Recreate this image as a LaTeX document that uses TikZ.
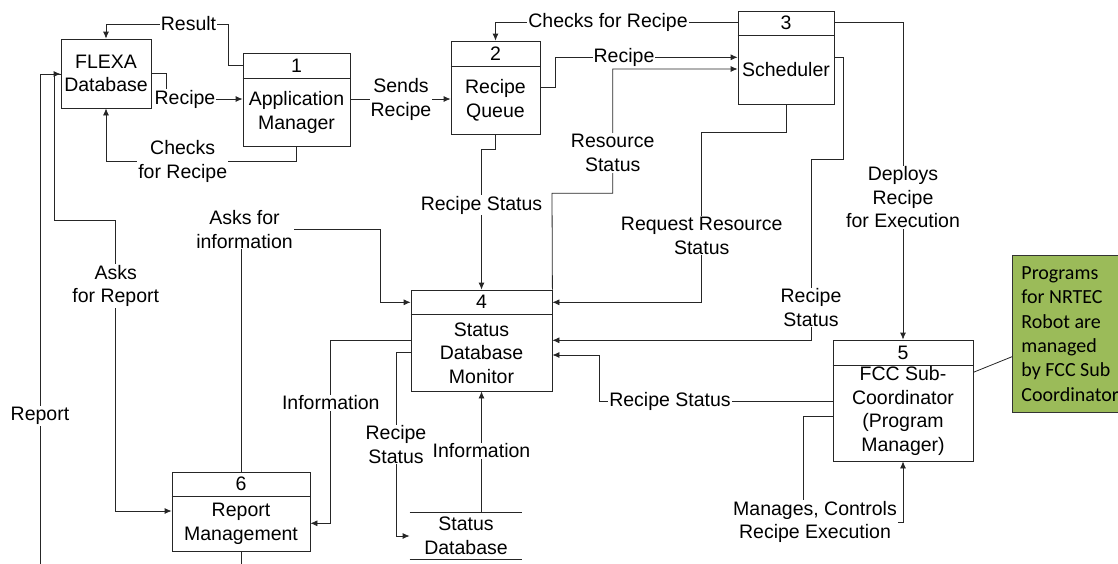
\documentclass[tikz,border=0pt]{standalone}
\usepackage{fontspec}
\setmainfont{Liberation Sans}
\newfontfamily\notefont{Carlito}
\usepackage{tikz}
\usetikzlibrary{arrows.meta}

\definecolor{noteGreen}{RGB}{155,187,89}

\begin{document}
\begin{tikzpicture}[x=1pt, y=-1pt, >={Latex[length=7pt,width=6pt]}, line width=0.8pt, draw=black!85,
  every node/.style={font=\fontsize{19.5}{23.5}\selectfont, align=center},
  box/.style={draw, inner sep=0pt},
  lbl/.style={fill=white, inner sep=1pt}]
\useasboundingbox (0,0) rectangle (1118,563);

% processes
\node[box, minimum width=90, minimum height=69] (flexa) at (106,73.5) {FLEXA\\Database};

\node[box, minimum width=107, minimum height=93] (n1) at (296.5,99.5) {};
\draw ([yshift=-26]n1.north west) -- ([yshift=-26]n1.north east);
\node at ([yshift=-13]n1.north) {1};
\node at (296.5,112.5) {Application\\Manager};

\node[box, minimum width=89, minimum height=93] (n2) at (495.5,87.5) {};
\draw ([yshift=-26]n2.north west) -- ([yshift=-26]n2.north east);
\node at ([yshift=-13]n2.north) {2};
\node at (495.5,100.5) {Recipe\\Queue};

\node[box, minimum width=96, minimum height=93] (n3) at (786,57.5) {};
\draw ([yshift=-25]n3.north west) -- ([yshift=-25]n3.north east);
\node at ([yshift=-12.5]n3.north) {3};
\node at (786,70) {Scheduler};

\node[box, minimum width=141, minimum height=101] (n4) at (481.5,340.5) {};
\draw ([yshift=-25]n4.north west) -- ([yshift=-25]n4.north east);
\node at ([yshift=-12.5]n4.north) {4};
\node at (481.5,353) {Status\\Database\\Monitor};

\node[box, minimum width=140, minimum height=121] (n5) at (903,400.5) {};
\draw ([yshift=-26]n5.north west) -- ([yshift=-26]n5.north east);
\node at ([yshift=-13]n5.north) {5};
\node at (903,411) {FCC Sub-\\Coordinator\\(Program\\Manager)};

\node[box, minimum width=138, minimum height=79] (n6) at (241,511.5) {};
\draw ([yshift=-25]n6.north west) -- ([yshift=-25]n6.north east);
\node at ([yshift=-12.5]n6.north) {6};
\node at (241,524) {Report\\Management};

% data store
\node[minimum width=112, minimum height=46.5, inner sep=0pt] (sdb) at (466,536) {Status\\Database};
\draw (sdb.north west) -- (sdb.north east);
\draw (sdb.south west) -- (sdb.south east);

% note
\node[draw=black!80, fill=noteGreen, anchor=north west, minimum height=157,
  inner xsep=9pt, align=left, font=\notefont\fontsize{20}{24.4}\selectfont]
  (note) at (1012,255) {Programs\\for NRTEC\\Robot are\\managed\\by FCC Sub\\Coordinator};
\draw (n5.east |- 0,372.3) -- (note.west |- 0,356.7);

% flows
\draw[->] (n1.west |- 0,65) -- (228,65) -- (228,24) -- (flexa.north |- 0,24) -- (flexa.north);
\draw[->] (flexa.east |- 0,73) -- (166,73) -- (166,99) -- (n1.west |- 0,99);
\draw[->] (n1.south) -- (296.5,161) -- (106,161) -- (flexa.south);
\draw[->] (n1.east |- 0,99) -- (n2.west |- 0,99);
\draw[->] (n3.west |- 0,22.7) -- (495.5,22.7) -- (n2.north);
\draw[->] (n2.east |- 0,87.7) -- (555.7,87.7) -- (555.7,57.3) -- (n3.west |- 0,57.3);
\draw[->] (n4.north east) -- (552,193.3) -- (612.7,193.3) -- (612.7,69) -- (n3.west |- 0,69);
\draw[->] (n2.south) -- (495.5,149.3) -- (481.5,149.3) -- (n4.north);
\draw[->] (n3.south) -- (786,132) -- (701.7,132) -- (701.7,302.3) -- (n4.east |- 0,302.3);
\draw[->] (n3.east |- 0,57.3) -- (843.3,57.3) -- (843.3,159.3) -- (811,159.3) -- (811,340.3) -- (n4.east |- 0,340.3);
\draw[->] (n3.east |- 0,22.3) -- (903,22.3) -- (n5.north);
\draw[->] (n5.west |- 0,401) -- (599.5,401) -- (599.5,355) -- (n4.east |- 0,355);
\draw[->] (n5.west |- 0,416) -- (803.3,416) -- (803.3,522.7) -- (903,522.7) -- (n5.south);
\draw[->] (n6.north) -- (241,229.3) -- (380.3,229.3) -- (380.3,302.3) -- (n4.west |- 0,302.3);
\draw[->] (n4.west |- 0,340.3) -- (330.3,340.3) -- (330.3,523.3) -- (n6.east |- 0,523.3);
\draw[->] (n4.west |- 0,352.3) -- (396,352.3) -- (396,536) -- (sdb.west);
\draw[->] (sdb.north -| n4.south) -- (n4.south);
\draw[->] (flexa.west |- 0,74) -- (54.3,74) -- (54.3,220.7) -- (115.7,220.7) -- (115.7,511) -- (n6.west |- 0,511);
\draw[->] (n6.south) -- (241,580) -- (40,580) -- (40,74) -- (flexa.west |- 0,74);

% flow labels
\node[lbl] at (188.5,24) {Result};
\node[lbl] at (185,99) {Recipe};
\node[lbl] at (182.7,161.7) {Checks\\for Recipe};
\node[lbl] at (401,99.5) {Sends\\Recipe};
\node[lbl] at (608,22.7) {Checks for Recipe};
\node[lbl] at (624,57.3) {Recipe};
\node[lbl] at (612.7,153) {Resource\\Status};
\node[lbl] at (481.5,205) {Recipe Status};
\node[lbl] at (701.7,235.8) {Request Resource\\Status};
\node[lbl] at (811,307.5) {Recipe\\Status};
\node[lbl] at (903,197.5) {Deploys\\Recipe\\for Execution};
\node[lbl] at (670,401) {Recipe Status};
\node[lbl] at (815,521.7) {Manages, Controls\\Recipe Execution};
\node[lbl] at (244.5,229.3) {Asks for\\information};
\node[lbl] at (330.8,402.7) {Information};
\node[lbl] at (396,444.5) {Recipe\\Status};
\node[lbl] at (481.5,451) {Information};
\node[lbl] at (115.7,285.8) {Asks\\for Report};
\node[lbl] at (40,416) {Report};
\end{tikzpicture}
\end{document}
